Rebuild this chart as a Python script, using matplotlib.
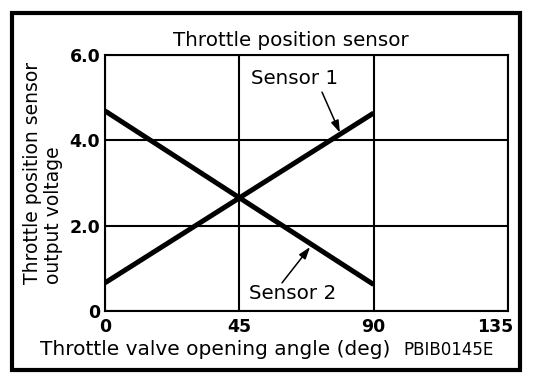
import matplotlib
matplotlib.use("Agg")
import matplotlib.pyplot as plt
import matplotlib.transforms as mtrans
from matplotlib.patches import Rectangle

plt.rcParams['font.family'] = ['DejaVu Sans']

angle = [0, 90]
sensor1 = [0.66, 4.64]
sensor2 = [4.69, 0.62]
xticks = [0, 45, 90, 135]
xtick_labels = ["0", "45", "90", "135"]
yticks = [0, 2, 4, 6]
ytick_labels = ["0", "2.0", "4.0", "6.0"]

W, H = 544, 380
fig = plt.figure(figsize=(W/100, H/100), dpi=100)
ax = fig.add_axes([105/W, 1-311/H, (508-105)/W, (311-55)/H])

ax.plot(angle, sensor1, color='black', lw=3.6, solid_capstyle='butt')
ax.plot(angle, sensor2, color='black', lw=3.6, solid_capstyle='butt')

ax.set_xlim(0, 135)
ax.set_ylim(0, 6)
ax.set_xticks(xticks)
ax.set_xticklabels(xtick_labels, fontsize=12.5, fontweight='bold')
ax.set_yticks(yticks)
ax.set_yticklabels(ytick_labels, fontsize=12.5, fontweight='bold')
ax.tick_params(length=0)
ax.tick_params(axis='x', pad=5)
ax.tick_params(axis='y', pad=3.5)
ax.grid(True, color='black', lw=1.5)
for s in ax.spines.values():
    s.set_linewidth(1.5)

lbl = ax.get_xticklabels()[-1]
lbl.set_transform(lbl.get_transform() + mtrans.ScaledTranslation(-13/100, 0, fig.dpi_scale_trans))

fig.text(291/W, 1-46.5/H, "Throttle position sensor", fontsize=14.3, ha='center', va='baseline')
fig.text(40/W, 1-355/H, "Throttle valve opening angle (deg)", fontsize=14.5,
         ha='left', va='baseline')
fig.text(494/W, 1-355/H, "PBIB0145E", fontsize=12, ha='right', va='baseline')
fig.text(43/W, 1-284/H, "Throttle position sensor\noutput voltage", fontsize=13.5,
         rotation=90, ha='center', va='bottom', multialignment='left', linespacing=1.15)

ax.text(63.5, 5.44, "Sensor 1", fontsize=14.3, ha='center', va='center')
ax.text(63.0, 0.42, "Sensor 2", fontsize=14.3, ha='center', va='center')
arrow = dict(arrowstyle='-|>,head_length=0.6,head_width=0.2', color='black',
             lw=1.1, mutation_scale=12, shrinkA=0, shrinkB=0)
ax.annotate("", xy=(78.7, 4.18), xytext=(72.7, 5.13), arrowprops=arrow)
ax.annotate("", xy=(68.7, 1.5), xytext=(59.3, 0.66), arrowprops=arrow)

fig.patches.append(Rectangle((12/W, 1-370/H), (520-12)/W, (370-13)/H,
                             transform=fig.transFigure, fill=False, lw=3, ec='black'))

fig.savefig("out.png", dpi=100)
